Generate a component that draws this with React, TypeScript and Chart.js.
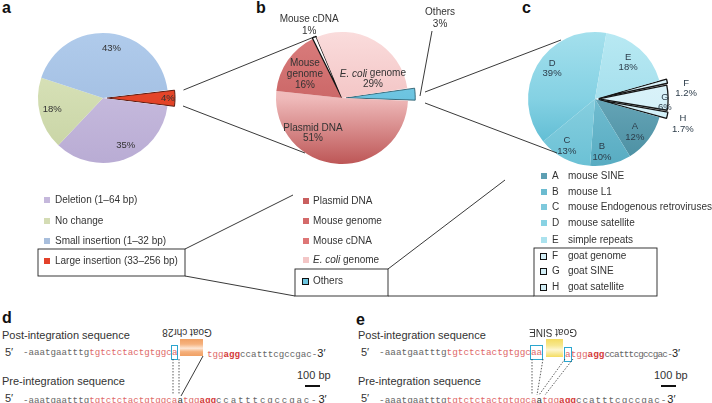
import React, { useEffect, useRef } from "react";
import { Chart, registerables } from "chart.js";
Chart.register(...registerables);

// ---------------- data ----------------
const aLabels = ["Large insertion (33–256 bp)", "Deletion (1–64 bp)", "No change", "Small insertion (1–32 bp)"];
const aValues = [4, 35, 18, 43];
const aLegendOrder = [1, 2, 3, 0];

const bLabels = ["Others", "Plasmid DNA", "Mouse genome", "Mouse cDNA", "E. coli genome"];
const bValues = [3, 51, 16, 1, 29];
const bLegendOrder = [1, 2, 3, 4, 0];

const cLetters = ["F", "G", "H", "A", "B", "C", "D", "E"];
const cNames = ["goat genome", "goat SINE", "goat satellite", "mouse SINE", "mouse L1", "mouse Endogenous retroviruses", "mouse satellite", "simple repeats"];
const cValues = [1.2, 6, 1.7, 12, 10, 13, 39, 18];
const cLegendOrder = [3, 4, 5, 6, 7, 0, 1, 2];

// ---------------- style ----------------
const SANS = '"Liberation Sans", Arial, Helvetica, sans-serif';
const MONO = '"Liberation Mono", "DejaVu Sans Mono", monospace';
const GRAY = "#666";
const RED = "#e06a6a";
const DRED = "#d43a3a";

type Seg = { t: string; i?: boolean };
type Spec = { lines: (string | Seg[])[]; frac: number; dA: number; lh: number };

function makeLabelPlugin(specs: Spec[], color: string, size: number) {
  return {
    id: "sliceLabels",
    afterDatasetsDraw(chart: any) {
      const meta = chart.getDatasetMeta(0);
      const ds = chart.data.datasets[0];
      const ctx = chart.ctx;
      meta.data.forEach((arc: any, i: number) => {
        const s = specs[i];
        if (!s) return;
        const p = arc.getProps(["x", "y", "startAngle", "endAngle", "outerRadius"], true);
        const ang = (p.startAngle + p.endAngle) / 2 + (s.dA * Math.PI) / 180;
        const off = Array.isArray(ds.offset) ? ds.offset[i] : 0;
        const r = off + s.frac * p.outerRadius;
        const cx = p.x + Math.cos(ang) * r;
        const cy = p.y + Math.sin(ang) * r;
        ctx.save();
        ctx.fillStyle = color;
        ctx.textBaseline = "middle";
        ctx.textAlign = "left";
        const n = s.lines.length;
        s.lines.forEach((line, k) => {
          const segs: Seg[] = typeof line === "string" ? [{ t: line }] : line;
          const fonts = segs.map((sg) => `${sg.i ? "italic " : ""}${size}px "Liberation Sans", Arial, sans-serif`);
          let w = 0;
          const ws = segs.map((sg, j) => {
            ctx.font = fonts[j];
            const m = ctx.measureText(sg.t).width;
            w += m;
            return m;
          });
          let x = cx - w / 2;
          const y = cy + (k - (n - 1) / 2) * s.lh;
          segs.forEach((sg, j) => {
            ctx.font = fonts[j];
            ctx.fillText(sg.t, x, y);
            x += ws[j];
          });
        });
        ctx.restore();
      });
    },
  };
}

const gradFn = (cols: string[][], R: number) => (c: any) => {
  const i = c.dataIndex ?? 0;
  const stops = cols[i] || cols[0];
  const ch = c.chart;
  const a = ch.chartArea;
  if (!a) return stops[0];
  const cy = (a.top + a.bottom) / 2;
  const g = ch.ctx.createLinearGradient(0, cy - R, 0, cy + R);
  stops.forEach((col, k) => g.addColorStop(stops.length === 1 ? 0 : k / (stops.length - 1), col));
  return g;
};

function pieConfig(values: number[], labels: string[], rotation: number, radius: number, offsets: number[], bw: number[], bc: string[], cols: string[][], plugin: any) {
  return {
    type: "pie" as const,
    data: {
      labels,
      datasets: [
        {
          data: values,
          offset: offsets,
          borderWidth: bw,
          borderColor: bc,
          backgroundColor: gradFn(cols, radius),
          radius,
          hoverOffset: 0,
        },
      ],
    },
    options: {
      responsive: false,
      maintainAspectRatio: false,
      animation: false as const,
      events: [],
      rotation,
      layout: { padding: 0 },
      plugins: { legend: { display: false }, tooltip: { enabled: false } },
    },
    plugins: [plugin],
  };
}

function PieCanvas({ left, top, width, height, build }: any) {
  const ref = useRef<HTMLCanvasElement>(null);
  useEffect(() => {
    const chart = new Chart(ref.current as HTMLCanvasElement, build() as any);
    return () => chart.destroy();
  }, []);
  return <canvas ref={ref} width={width} height={height} style={{ position: "absolute", left, top, width, height }} />;
}

const pct = (v: number) => `${v}%`;

const buildA = () =>
  pieConfig(
    aValues, aLabels, 83, 65,
    [16, 0, 0, 0],
    [1, 0, 0, 0],
    ["#5a1a10", "#fff", "#fff", "#fff"],
    [["#ee5030", "#d9381f"], ["#d0c5e4", "#b9acd4"], ["#dee7c0", "#c7d3a3"], ["#b0cbeb", "#9bb8de"]],
    makeLabelPlugin(
      [
        { lines: [pct(aValues[0])], frac: 0.75, dA: 0, lh: 11 },
        { lines: [pct(aValues[1])], frac: 0.81, dA: -6, lh: 11 },
        { lines: [pct(aValues[2])], frac: 0.8, dA: 2, lh: 11 },
        { lines: [pct(aValues[3])], frac: 0.78, dA: 4, lh: 11 },
      ],
      "#333", 9.5
    )
  );

const buildB = () =>
  pieConfig(
    bValues, bLabels, 81.6, 66,
    [16, 0, 0, 2, 0],
    [0.8, 0, 0, 1.3, 0],
    ["#1d4f60", "#fff", "#fff", "#111", "#fff"],
    [["#88d5ec", "#4fb2d4"], ["#f8d6d6", "#efbaba", "#bd5656"], ["#da7e7e", "#be5252"], ["#ffffff", "#ffffff"], ["#fadcdc", "#edb0b0"]],
    makeLabelPlugin(
      [
        { lines: [bLabels[0], pct(bValues[0])], frac: 1.67, dA: -36, lh: 12 },
        { lines: [bLabels[1], pct(bValues[1])], frac: 0.69, dA: 35.4, lh: 10.5 },
        { lines: ["Mouse", "genome", pct(bValues[2])], frac: 0.67, dA: -1.8, lh: 11 },
        { lines: [bLabels[3], pct(bValues[3])], frac: 1.18, dA: 0.3, lh: 12 },
        { lines: [[{ t: "E. coli", i: true }, { t: " genome" }], pct(bValues[4])], frac: 0.55, dA: 29, lh: 10.5 },
      ],
      "#333", 10
    )
  );

const buildC = () =>
  pieConfig(
    cValues, cLetters, 74, 67,
    [15, 15, 15, 0, 0, 0, 0, 0],
    [1.3, 1.3, 1.3, 0, 0, 0, 0, 0],
    ["#151515", "#151515", "#151515", "#fff", "#fff", "#fff", "#fff", "#fff"],
    [
      ["#e2f5fb", "#cbedf6"], ["#e2f5fb", "#cbedf6"], ["#e2f5fb", "#cbedf6"],
      ["#7fbacb", "#4a8ea1"], ["#88cbdc", "#58acc2"], ["#a2dce9", "#6bc1d5"],
      ["#a4e0ed", "#84d1e3", "#4fb3cc"], ["#b8e9f3", "#95d7e7"],
    ],
    makeLabelPlugin(
      [
        { lines: [cLetters[0], pct(cValues[0])], frac: 1.145, dA: 7, lh: 10 },
        { lines: [cLetters[1], pct(cValues[1])], frac: 0.82, dA: 3.5, lh: 10 },
        { lines: [cLetters[2], pct(cValues[2])], frac: 1.14, dA: 3.2, lh: 11 },
        { lines: [cLetters[3], pct(cValues[3])], frac: 0.77, dA: 2.3, lh: 10.5 },
        { lines: [cLetters[4], pct(cValues[4])], frac: 0.8, dA: 6.1, lh: 11 },
        { lines: [cLetters[5], pct(cValues[5])], frac: 0.82, dA: 3.4, lh: 11 },
        { lines: [cLetters[6], pct(cValues[6])], frac: 0.79, dA: 5.6, lh: 10 },
        { lines: [cLetters[7], pct(cValues[7])], frac: 0.74, dA: 0, lh: 10 },
      ],
      "#2c3c4a", 9.5
    )
  );

// ---------------- html helpers ----------------
function T({ x, y, s = 10, children, style }: any) {
  return (
    <div style={{ position: "absolute", left: x, top: y - s * 0.6, fontSize: s, lineHeight: `${s * 1.2}px`, whiteSpace: "nowrap", ...style }}>
      {children}
    </div>
  );
}

function Marker({ x, y, color, bordered }: any) {
  const s = bordered ? 7 : 6;
  return (
    <div
      style={{
        position: "absolute", left: x, top: y - s / 2, width: s, height: s, background: color,
        boxSizing: "border-box", border: bordered ? "1.5px solid #111" : "none",
      }}
    />
  );
}

function nameNode(s: string) {
  if (s.startsWith("E. coli")) return (<><i>E. coli</i>{s.slice(7)}</>);
  return s;
}

type Part = { t: string; c?: string; b?: boolean; box?: boolean; ls?: number; sans?: boolean };
function Seq({ x, y, size, parts }: { x: number; y: number; size: number; parts: Part[] }) {
  return (
    <div style={{ position: "absolute", left: x, top: y - 6, height: 12, lineHeight: "12px", fontFamily: MONO, fontSize: size, whiteSpace: "pre" }}>
      {parts.map((p, i) => (
        <span
          key={i}
          style={{
            color: p.c || GRAY,
            fontWeight: p.b ? "bold" : "normal",
            letterSpacing: p.ls ? p.ls : undefined,
            outline: p.box ? "1.5px solid #2ba6cf" : undefined,
            padding: p.box ? "1px 0" : undefined,
            fontFamily: p.sans ? SANS : undefined,
            fontSize: p.sans ? 11 : undefined,
          }}
        >
          {p.t}
        </span>
      ))}
    </div>
  );
}

const aLegendY = [200, 221, 241, 261];
const aLegendColors = ["#e3412a", "#c5b8dc", "#d4dcb4", "#a8bedc"];
const bLegendY = [201, 221, 241, 260, 281];
const bLegendColors = ["#6cc5df", "#c95f5f", "#d46a6a", "#de7676", "#f3c6c6"];
const cLegendY = [176, 192, 207, 223, 240, 256, 271, 287];
const cLegendColors = ["#d2eef6", "#d2eef6", "#d2eef6", "#5d9fb3", "#6bbbd0", "#7ec9dc", "#88d2e3", "#abe2ee"];

export default function App() {
  const line = { stroke: "#222", strokeWidth: 0.9, fill: "none" };
  const dot = { stroke: "#333", strokeWidth: 0.8, strokeDasharray: "1.5 1.5", fill: "none" };
  const preY = 398.5;
  return (
    <div style={{ position: "fixed", left: 0, top: 0, width: 712, height: 403, background: "#fff", overflow: "hidden", fontFamily: SANS, color: "#333" }}>
      {/* panel letters */}
      <T x={2} y={7.4} s={16} style={{ fontWeight: "bold", color: "#111" }}>a</T>
      <T x={256} y={7.4} s={16} style={{ fontWeight: "bold", color: "#111" }}>b</T>
      <T x={522} y={7.4} s={16} style={{ fontWeight: "bold", color: "#111" }}>c</T>
      <T x={2} y={317.5} s={16} style={{ fontWeight: "bold", color: "#111" }}>d</T>
      <T x={356} y={319.4} s={16} style={{ fontWeight: "bold", color: "#111" }}>e</T>

      <PieCanvas left={3} top={0} width={200} height={196} build={buildA} />
      <PieCanvas left={222} top={0} width={240} height={196} build={buildB} />
      <PieCanvas left={478} top={0} width={234} height={198} build={buildC} />

      {/* legend a */}
      {aLegendOrder.map((idx, k) => (
        <React.Fragment key={"a" + k}>
          <Marker x={44} y={aLegendY[k]} color={aLegendColors[idx]} />
          <T x={55} y={aLegendY[k]} s={10}>{aLabels[idx]}</T>
        </React.Fragment>
      ))}
      {/* legend b */}
      {bLegendOrder.map((idx, k) => (
        <React.Fragment key={"b" + k}>
          <Marker x={idx === 0 ? 302 : 303} y={bLegendY[k]} color={bLegendColors[idx]} bordered={idx === 0} />
          <T x={313} y={bLegendY[k]} s={10}>{nameNode(bLabels[idx])}</T>
        </React.Fragment>
      ))}
      {/* legend c */}
      {cLegendOrder.map((idx, k) => (
        <React.Fragment key={"c" + k}>
          <Marker x={idx < 3 ? 540 : 541} y={cLegendY[k]} color={cLegendColors[idx]} bordered={idx < 3} />
          <T x={552} y={cLegendY[k]} s={10}>{cLetters[idx]}</T>
          <T x={568} y={cLegendY[k]} s={10}>{cNames[idx]}</T>
        </React.Fragment>
      ))}

      {/* panel d */}
      <T x={2} y={336} s={11}>Post-integration sequence</T>
      <T x={2} y={382} s={11}>Pre-integration sequence</T>
      <T x={5} y={352.5} s={11}>5′</T>
      <Seq x={23} y={352.5} size={9.2} parts={[{ t: "-aaatgaatttg" }, { t: "tgtctctactgtggc", c: RED }, { t: "a", c: RED, box: true }]} />
      <div style={{ position: "absolute", left: 180, top: 339, width: 23, height: 17, background: "linear-gradient(to bottom, #f0a064 0%, #f6b27e 30%, #fde6d4 55%, #f5b07c 75%, #f0a064 100%)" }} />
      <Seq x={207} y={352.5} size={9.2} parts={[{ t: "tgg", c: RED }, { t: "agg", c: DRED, b: true }, { t: "ccatttcgccgac-" }, { t: "3′", c: "#222", sans: true }]} />
      <T x={5} y={preY} s={11}>5′</T>
      <Seq x={23} y={preY} size={9.2} parts={[{ t: "-aaatgaatttg" }, { t: "tgtctctactgtggca", c: RED }, { t: "a", c: "#333" }, { t: "tgg", c: RED }, { t: "agg", c: DRED, b: true }, { t: "ccatttcgccgac-", ls: 1.8 }, { t: "3′", c: "#222", sans: true }]} />
      <T x={297} y={376} s={11}>100 bp</T>
      <div style={{ position: "absolute", left: 305, top: 385, width: 15, height: 2, background: "#111" }} />
      <T x={187} y={332} s={10} style={{ transform: "translateX(-50%) rotate(180deg)", color: "#333" }}>Goat chr28</T>

      {/* panel e */}
      <T x={358} y={336} s={11}>Post-integration sequence</T>
      <T x={358} y={382} s={11}>Pre-integration sequence</T>
      <T x={361} y={352.5} s={11}>5′</T>
      <Seq x={379} y={352.5} size={9.4} parts={[{ t: "-aaatgaatttg" }, { t: "tgtctctactgtggc", c: RED }, { t: "aa", c: RED, box: true }]} />
      <div style={{ position: "absolute", left: 546, top: 339, width: 17, height: 18, background: "linear-gradient(to bottom, #f4dc60 0%, #f7e78e 35%, #fdf6d0 60%, #f7e68a 85%, #f4dc60 100%)" }} />
      <Seq x={565} y={352.5} size={9.4} parts={[{ t: "a", c: RED, box: true }, { t: "tgg", c: RED }, { t: "agg", c: DRED, b: true }, { t: "ccatttcgccgac-", ls: -0.8 }, { t: "3′", c: "#222", sans: true }]} />
      <T x={361} y={preY} s={11}>5′</T>
      <Seq x={379} y={preY} size={9.4} parts={[{ t: "-aaatgaatttg" }, { t: "tgtctctactgtggca", c: RED }, { t: "a", c: "#333" }, { t: "tgg", c: RED }, { t: "agg", c: DRED, b: true }, { t: "ccatttcgccgac-", ls: 0.9 }, { t: "3′", c: "#222", sans: true }]} />
      <T x={654} y={376} s={11}>100 bp</T>
      <div style={{ position: "absolute", left: 661, top: 385, width: 15, height: 2, background: "#111" }} />
      <T x={553} y={332} s={10} style={{ transform: "translateX(-50%) rotate(180deg)", color: "#333" }}>Goat SINE</T>

      {/* connectors, boxes, guides */}
      <svg width={712} height={403} style={{ position: "absolute", left: 0, top: 0, pointerEvents: "none" }}>
        <line x1={183.5} y1={90} x2={314} y2={37} {...line} />
        <line x1={183} y1={106} x2={305} y2={153} {...line} />
        <rect x={38} y={249} width={147} height={27} {...line} />
        <line x1={185} y1={249} x2={293} y2={195} {...line} />
        <line x1={185} y1={276} x2={295} y2={296} {...line} />
        <rect x={295} y={269} width={93} height={27} {...line} />
        <line x1={388} y1={269} x2={505} y2={180} {...line} />
        <line x1={388} y1={296} x2={534} y2={296} {...line} />
        <rect x={534} y={248} width={123} height={48} {...line} />
        <line x1={425} y1={92} x2={561} y2={40} {...line} />
        <line x1={425} y1={103} x2={557} y2={153} {...line} />
        <line x1={432} y1={31} x2={420} y2={96} {...line} />
        {/* d guides */}
        <line x1={173} y1={359} x2={173} y2={395} {...dot} />
        <line x1={179} y1={359} x2={179} y2={395} {...dot} />
        <line x1={203} y1={356} x2={181} y2={396} {...line} />
        {/* e guides */}
        <line x1={532} y1={359} x2={532} y2={395} {...dot} />
        <line x1={543} y1={359} x2={537} y2={395} {...dot} />
        <line x1={565} y1={359} x2={539} y2={395} {...dot} />
        <line x1={573} y1={359} x2={545} y2={395} {...dot} />
      </svg>
    </div>
  );
}
